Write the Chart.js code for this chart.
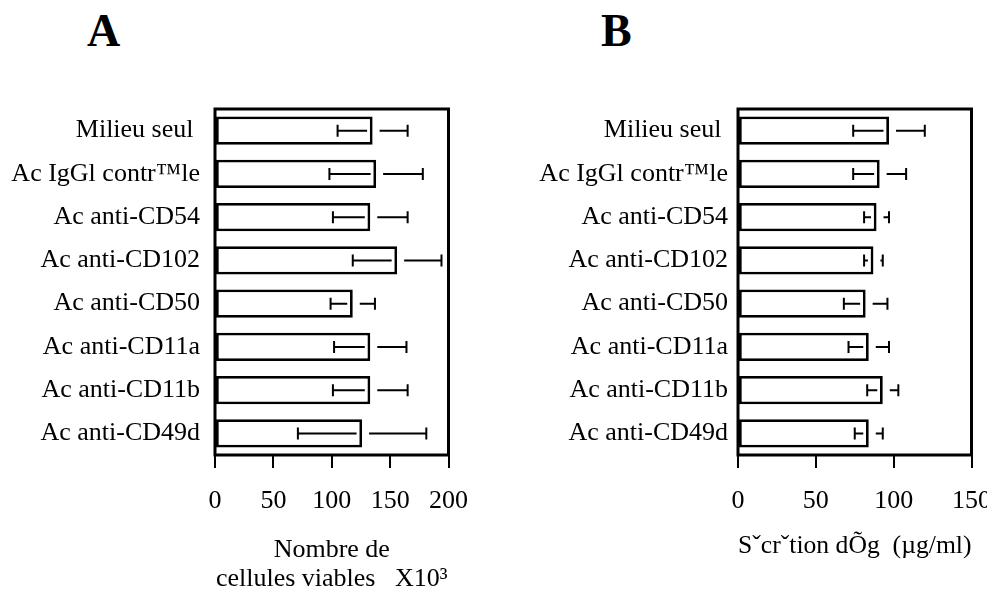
<!DOCTYPE html>
<html>
<head>
<meta charset="utf-8">
<script src="https://cdn.jsdelivr.net/npm/chart.js@4.4.0/dist/chart.umd.min.js"></script>
<style>
html, body { margin: 0; padding: 0; background: #fff; overflow: hidden; }
#wrap { position: relative; width: 987px; height: 589px; }
.panel { position: absolute; top: 0; height: 589px; }
#boxA { left: 0; width: 486px; }
#boxB { left: 480px; width: 529px; }
.lettre { position: absolute; top: 8px; font: bold 46px 'Liberation Serif', serif; line-height: 46px; color: #000; }
</style>
</head>
<body>
<div id="wrap">
    <div class="lettre" style="left:87px">A</div>
    <div class="lettre" style="left:601px">B</div>
    <div class="panel" id="boxA"><canvas id="grafA"></canvas></div>
    <div class="panel" id="boxB"><canvas id="grafB"></canvas></div>
</div>
<script>
// Données
const categories = ['Milieu seul ', 'Ac IgGl contr™le', 'Ac anti-CD54', 'Ac anti-CD102',
                    'Ac anti-CD50', 'Ac anti-CD11a', 'Ac anti-CD11b', 'Ac anti-CD49d'];
// A : nombre de cellules viables (x10^3)
const cellulesMoy = [135, 138, 133, 156, 118, 133, 133, 126];
const cellulesEcart = [30, 40, 32, 38, 19, 31, 32, 55];
// B : sécrétion d'Ig (µg/ml)
const igMoy = [97, 91, 89, 87, 82, 84, 93, 84];
const igEcart = [23, 17, 8, 6, 14, 13, 10, 9];
// graduations
const ticksA = [0, 50, 100, 150, 200];
const ticksB = [0, 50, 100, 150];

const POLICE = "'Liberation Serif', 'Times New Roman', serif";

// cadre noir autour de la zone du graphique
const pluginCadre = {
    id: 'cadre',
    afterDraw(chart) {
        const a = chart.chartArea;
        const ctx = chart.ctx;
        ctx.save();
        ctx.strokeStyle = '#000';
        ctx.lineWidth = 3;
        ctx.strokeRect(a.left, a.top, a.right - a.left, a.bottom - a.top);
        ctx.restore();
    }
};

// barres d'erreur (interrompues autour du bout de la barre)
const pluginErreur = {
    id: 'barresErreur',
    afterDatasetsDraw(chart, args, opts) {
        const ctx = chart.ctx;
        const xScale = chart.scales.x;
        const meta = chart.getDatasetMeta(0);
        const moy = chart.data.datasets[0].data;
        ctx.save();
        ctx.strokeStyle = '#000';
        ctx.lineWidth = 2;
        meta.data.forEach((bar, i) => {
            const sd = opts.ecarts[i];
            const bout = bar.x;
            const y = bar.y;
            const bas = xScale.getPixelForValue(moy[i] - sd);
            const haut = xScale.getPixelForValue(moy[i] + sd);
            ctx.beginPath();
            ctx.moveTo(bas, y);
            ctx.lineTo(bout - 5.5, y);
            ctx.moveTo(bout + 7, y);
            ctx.lineTo(haut, y);
            ctx.moveTo(bas, y - 6);
            ctx.lineTo(bas, y + 6);
            ctx.moveTo(haut, y - 6);
            ctx.lineTo(haut, y + 6);
            ctx.stroke();
        });
        ctx.restore();
    }
};

function creerGraphique(canvasEl, moyennes, ecarts, graduations, largeurAxeY, ecartLabel, titre, titreBas) {
    const config = {
        type: 'bar',
        data: {
            labels: categories,
            datasets: [{
                data: moyennes,
                backgroundColor: '#fff',
                borderColor: '#000',
                borderWidth: 2.8,
                borderSkipped: false,
                categoryPercentage: 1,
                barPercentage: 0.65
            }]
        },
        options: {
            indexAxis: 'y',
            responsive: true,
            maintainAspectRatio: false,
            animation: false,
            layout: { padding: { top: 109, left: 0, right: 0, bottom: 0 } },
            plugins: {
                legend: { display: false },
                tooltip: { enabled: false },
                barresErreur: { ecarts: ecarts }
            },
            scales: {
                x: {
                    type: 'linear',
                    min: graduations[0],
                    max: graduations[graduations.length - 1],
                    afterBuildTicks: s => { s.ticks = graduations.map(v => ({ value: v })); },
                    ticks: { color: '#000', font: { family: POLICE, size: 26 }, padding: 18, maxRotation: 0, autoSkip: false },
                    grid: { display: true, drawOnChartArea: false, drawTicks: true, tickLength: 13, color: '#000', lineWidth: 2 },
                    border: { display: false },
                    title: {
                        display: true,
                        text: titre,
                        color: '#000',
                        font: { family: POLICE, size: 26, lineHeight: 1.12 },
                        padding: { top: 0, bottom: titreBas }
                    },
                    afterFit: s => { s.height = 134; }
                },
                y: {
                    ticks: { color: '#000', font: { family: POLICE, size: 26 }, padding: ecartLabel, autoSkip: false },
                    grid: { display: false, drawTicks: false },
                    border: { display: false },
                    afterFit: s => { s.width = largeurAxeY; }
                }
            }
        },
        plugins: [pluginErreur, pluginCadre]
    };
    return new Chart(canvasEl, config);
}

creerGraphique(document.getElementById('grafA'), cellulesMoy, cellulesEcart, ticksA, 215, 15,
    ['Nombre de', 'cellules viables   X10³'], -5);
creerGraphique(document.getElementById('grafB'), igMoy, igEcart, ticksB, 258, 10,
    'Sˇcrˇtion dÕg  (µg/ml)', 28);
</script>
</body>
</html>
